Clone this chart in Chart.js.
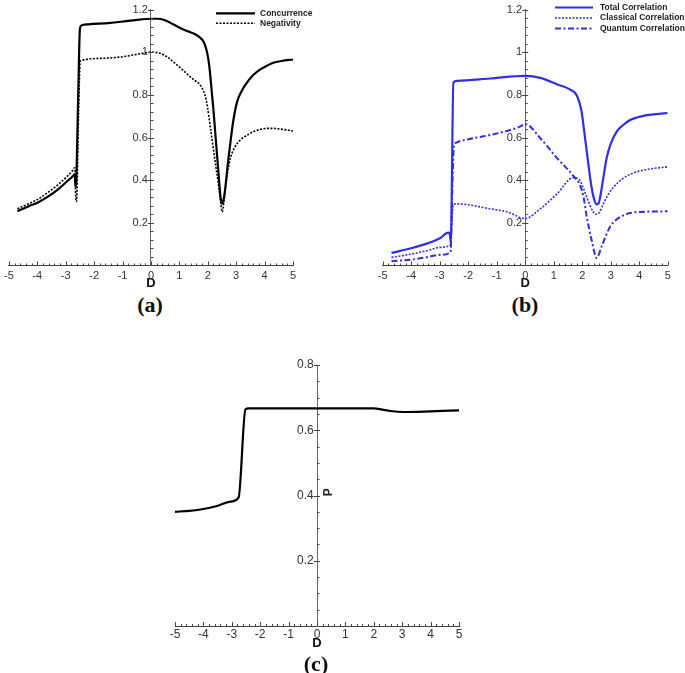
<!DOCTYPE html>
<html>
<head>
<meta charset="utf-8">
<script src="https://cdn.jsdelivr.net/npm/chart.js@4.4.1/dist/chart.umd.min.js"></script>
<style>
  html, body { margin: 0; padding: 0; background: #fff; }
  body { width: 685px; height: 673px; position: relative; overflow: hidden; }
  .panel { position: absolute; }
  .cap {
    position: absolute;
    font: bold 22px "Liberation Serif", "Times New Roman", serif;
    color: #111;
    transform: translate(-50%, -50%);
  }
</style>
</head>
<body>
<div class="panel" style="left:0;top:0"><canvas id="chart-a" width="335" height="292"></canvas></div>
<div class="panel" style="left:340px;top:0"><canvas id="chart-b" width="345" height="292"></canvas></div>
<div class="panel" style="left:150px;top:350px"><canvas id="chart-c" width="350" height="302"></canvas></div>
<div class="cap" style="left:150px;top:305px">(a)</div>
<div class="cap" style="left:525px;top:305px">(b)</div>
<div class="cap" style="left:316px;top:664px">(c)</div>

<script>
// ---- panel (a): concurrence and negativity vs D
const concD = [-4.70, -4.3, -3.96, -3.6, -3.26, -2.95, -2.74, -2.68, -2.66, -2.63, -2.56, -2.50, -2.45, -2.4, -2.2, -1.5, -1.05, -0.5, 0, 0.25, 0.47, 0.8, 1.05, 1.3, 1.52, 1.7, 1.81, 1.9, 1.98, 2.05, 2.1, 2.2, 2.27, 2.38, 2.45, 2.51, 2.56, 2.62, 2.7, 2.8, 2.9, 3.03, 3.2, 3.38, 3.6, 3.85, 4.1, 4.31, 4.6, 5.0];
const concVal = [0.255, 0.278, 0.297, 0.325, 0.358, 0.395, 0.42, 0.428, 0.37, 0.40, 0.80, 1.11, 1.125, 1.128, 1.131, 1.137, 1.143, 1.152, 1.157, 1.157, 1.151, 1.13, 1.112, 1.098, 1.087, 1.072, 1.058, 1.035, 0.997, 0.94, 0.874, 0.73, 0.612, 0.43, 0.32, 0.29, 0.31, 0.366, 0.47, 0.58, 0.68, 0.766, 0.82, 0.858, 0.893, 0.92, 0.938, 0.951, 0.959, 0.966];

const negD = [-4.70, -4.3, -3.96, -3.6, -3.26, -2.95, -2.74, -2.68, -2.64, -2.62, -2.55, -2.49, -2.45, -2.2, -1.5, -1.05, -0.5, 0, 0.35, 0.6, 0.82, 1.05, 1.28, 1.5, 1.75, 1.9, 1.98, 2.1, 2.21, 2.3, 2.39, 2.46, 2.51, 2.56, 2.62, 2.7, 2.8, 2.95, 3.15, 3.4, 3.61, 3.85, 4.08, 4.3, 4.55, 5.0];
const negVal = [0.266, 0.29, 0.312, 0.345, 0.38, 0.418, 0.448, 0.458, 0.30, 0.30, 0.70, 0.955, 0.962, 0.968, 0.973, 0.978, 0.99, 1.0, 0.994, 0.975, 0.951, 0.925, 0.897, 0.872, 0.843, 0.80, 0.751, 0.64, 0.535, 0.45, 0.366, 0.29, 0.251, 0.29, 0.366, 0.44, 0.505, 0.555, 0.589, 0.612, 0.628, 0.638, 0.643, 0.643, 0.64, 0.631];

// ---- panel (b): total, classical and quantum correlation vs D
const totD = [-4.69, -3.98, -3.4, -2.99, -2.70, -2.64, -2.61, -2.52, -2.4, -1.23, 0, 0.53, 1.11, 1.58, 1.81, 1.98, 2.07, 2.16, 2.25, 2.33, 2.42, 2.51, 2.57, 2.63, 2.74, 2.86, 3.0, 3.21, 3.45, 3.68, 3.95, 4.26, 4.6, 5.0];
const totVal = [0.059, 0.082, 0.105, 0.128, 0.154, 0.143, 0.105, 0.858, 0.866, 0.877, 0.889, 0.88, 0.85, 0.825, 0.797, 0.72, 0.63, 0.535, 0.44, 0.366, 0.31, 0.286, 0.29, 0.32, 0.41, 0.505, 0.57, 0.628, 0.66, 0.682, 0.695, 0.705, 0.71, 0.715];

const clsD = [-4.69, -3.98, -3.4, -2.99, -2.62, -2.58, -2.52, -2.4, -1.23, -0.6, 0, 0.53, 1.11, 1.69, 1.8, 1.93, 2.05, 2.16, 2.39, 2.48, 2.57, 2.74, 2.9, 3.09, 3.4, 3.68, 4.26, 5.0];
const clsVal = [0.038, 0.054, 0.071, 0.085, 0.097, 0.20, 0.286, 0.289, 0.266, 0.25, 0.22, 0.266, 0.335, 0.412, 0.41, 0.397, 0.36, 0.32, 0.251, 0.24, 0.243, 0.289, 0.33, 0.366, 0.405, 0.428, 0.45, 0.463];

const qntD = [-4.69, -3.98, -3.4, -2.99, -2.62, -2.56, -2.5, -2.45, -1.81, -1.23, -0.64, -0.2, 0, 0.53, 1.11, 1.69, 1.93, 2.05, 2.16, 2.33, 2.51, 2.68, 2.98, 3.44, 4.03, 5.0];
const qntVal = [0.02, 0.028, 0.04, 0.05, 0.062, 0.35, 0.56, 0.574, 0.597, 0.612, 0.631, 0.65, 0.663, 0.597, 0.505, 0.42, 0.374, 0.32, 0.228, 0.12, 0.035, 0.089, 0.182, 0.235, 0.251, 0.254];

// ---- panel (c): P vs D
const pD = [-5.0, -4.5, -4.11, -3.52, -3.05, -2.76, -2.52, -2.41, 0, 2.0, 2.3, 2.58, 3.05, 3.99, 5.0];
const pVal = [0.35, 0.353, 0.357, 0.368, 0.381, 0.394, 0.664, 0.667, 0.667, 0.667, 0.663, 0.659, 0.656, 0.658, 0.661];

const FONT = '"Liberation Sans", Arial, sans-serif';
const BLUE = '#2f2fe6';

function toPoints(xs, ys) {
    return xs.map((x, i) => ({ x: x, y: ys[i] }));
}

function series(label, xs, ys, color, width, dash) {
    return {
        label: label,
        data: toPoints(xs, ys),
        borderColor: color,
        borderWidth: width,
        borderDash: dash,
        pointRadius: 0,
        fill: false,
        cubicInterpolationMode: "monotone"
    };
}

// draws minor/major tick marks, the legend and a y-axis label
const axisMarks = {
    id: "axisMarks",
    afterDraw(chart, args, opts) {
        const ctx = chart.ctx;
        const x = chart.scales.x;
        const y = chart.scales.y;
        const y0 = y.getPixelForValue(0);
        const x0 = x.getPixelForValue(0);
        ctx.save();
        ctx.strokeStyle = "#444";
        ctx.lineWidth = 1;
        ctx.beginPath();
        for (let i = 0; i <= 50; i++) {
            const px = Math.round(x.getPixelForValue(-5 + i * 0.2)) + 0.5;
            const len = i % 5 === 0 ? 4 : 2;
            ctx.moveTo(px, y0);
            ctx.lineTo(px, y0 - len);
        }
        const n = Math.round(y.max / opts.yMinor);
        for (let i = 1; i <= n; i++) {
            const v = i * opts.yMinor;
            const py = Math.round(y.getPixelForValue(v)) + 0.5;
            const major = Math.abs(v / 0.2 - Math.round(v / 0.2)) < 1e-6;
            if (major) {
                ctx.moveTo(x0 - 3, py);
                ctx.lineTo(x0 + 3, py);
            } else {
                ctx.moveTo(x0, py);
                ctx.lineTo(x0 + 2.5, py);
            }
        }
        ctx.stroke();

        // legend with line samples
        if (opts.legend) {
            const lg = opts.legend;
            ctx.font = "bold " + lg.size + "px " + FONT;
            ctx.textBaseline = "middle";
            chart.data.datasets.forEach((ds, i) => {
                const ly = lg.y + i * lg.rowH;
                ctx.beginPath();
                ctx.strokeStyle = ds.borderColor;
                ctx.lineWidth = ds.borderWidth;
                ctx.setLineDash(ds.borderDash || []);
                ctx.moveTo(lg.x, ly);
                ctx.lineTo(lg.x + lg.len, ly);
                ctx.stroke();
                ctx.setLineDash([]);
                ctx.fillStyle = "#222";
                ctx.fillText(ds.label, lg.x + lg.len + lg.gap, ly);
            });
        }

        if (opts.yLabel) {
            ctx.font = "bold 12px " + FONT;
            ctx.fillStyle = "#222";
            ctx.textAlign = "center";
            ctx.textBaseline = "middle";
            ctx.translate(x0 + opts.yLabel.dx, y.getPixelForValue(opts.yLabel.value));
            ctx.rotate(-Math.PI / 2);
            ctx.fillText(opts.yLabel.text, 0, 0);
        }
        ctx.restore();
    }
};

function buildOptions(cfg) {
    return {
        responsive: false,
        animation: false,
        layout: { padding: cfg.padding },
        plugins: {
            legend: { display: false },
            tooltip: { enabled: false },
            axisMarks: cfg.marks
        },
        scales: {
            x: {
                type: "linear",
                min: -5,
                max: 5,
                position: "bottom",
                afterFit: s => { s.height = cfg.xAxisHeight; },
                ticks: {
                    stepSize: 1,
                    padding: cfg.xTickPad,
                    color: "#333",
                    maxRotation: 0,
                    autoSkip: false,
                    font: { family: FONT, size: cfg.tickSize }
                },
                grid: { drawOnChartArea: false, drawTicks: false },
                border: { display: true, color: "#444", width: 1 },
                title: {
                    display: true,
                    text: "D",
                    color: "#111",
                    font: { family: FONT, size: 13, weight: "bold" },
                    padding: { top: 0, bottom: cfg.titlePad }
                }
            },
            y: {
                type: "linear",
                min: 0,
                max: cfg.yMax,
                position: { x: 0 },
                ticks: {
                    stepSize: 0.2,
                    color: "#333",
                    font: { family: FONT, size: cfg.tickSize },
                    // trailing space keeps the label clear of the axis line
                    callback: v => (v === 0 ? "" : String(+v.toFixed(1)) + " ")
                },
                grid: { drawOnChartArea: false, drawTicks: false },
                border: { display: true, color: "#666", width: 1 }
            }
        }
    };
}

new Chart("chart-a", {
    type: "line",
    data: {
        datasets: [
            series("Concurrence", concD, concVal, "#000", 2.2, []),
            series("Negativity", negD, negVal, "#000", 1.6, [2, 1.5])
        ]
    },
    options: buildOptions({
        padding: { left: 7.5, right: 42, top: 6, bottom: 0 },
        xAxisHeight: 26.5, xTickPad: 4, titlePad: 0.5, tickSize: 11, yMax: 1.2,
        marks: { yMinor: 0.04, legend: { x: 216, y: 13.3, rowH: 10, len: 39, gap: 5, size: 8.5 } }
    }),
    plugins: [axisMarks]
});

new Chart("chart-b", {
    type: "line",
    data: {
        datasets: [
            series("Total Correlation", totD, totVal, BLUE, 2.2, []),
            series("Classical Correlation", clsD, clsVal, BLUE, 1.6, [2, 1.5]),
            series("Quantum Correlation", qntD, qntVal, BLUE, 2, [6, 2.5, 2, 2.5])
        ]
    },
    options: buildOptions({
        padding: { left: 42.7, right: 17.3, top: 6, bottom: 0 },
        xAxisHeight: 26.5, xTickPad: 4, titlePad: 0.5, tickSize: 11, yMax: 1.2,
        marks: { yMinor: 0.04, legend: { x: 215, y: 7.5, rowH: 10.5, len: 38, gap: 7, size: 8.5 } }
    }),
    plugins: [axisMarks]
});

new Chart("chart-c", {
    type: "line",
    data: {
        datasets: [
            series("P", pD, pVal, "#000", 2.2, [])
        ]
    },
    options: buildOptions({
        padding: { left: 25, right: 41, top: 15, bottom: 0 },
        xAxisHeight: 26, xTickPad: 1.5, titlePad: 0.5, tickSize: 12, yMax: 0.8,
        marks: { yMinor: 0.05, yLabel: { text: "P", value: 0.41, dx: 12 } }
    }),
    plugins: [axisMarks]
});
</script>
</body>
</html>
